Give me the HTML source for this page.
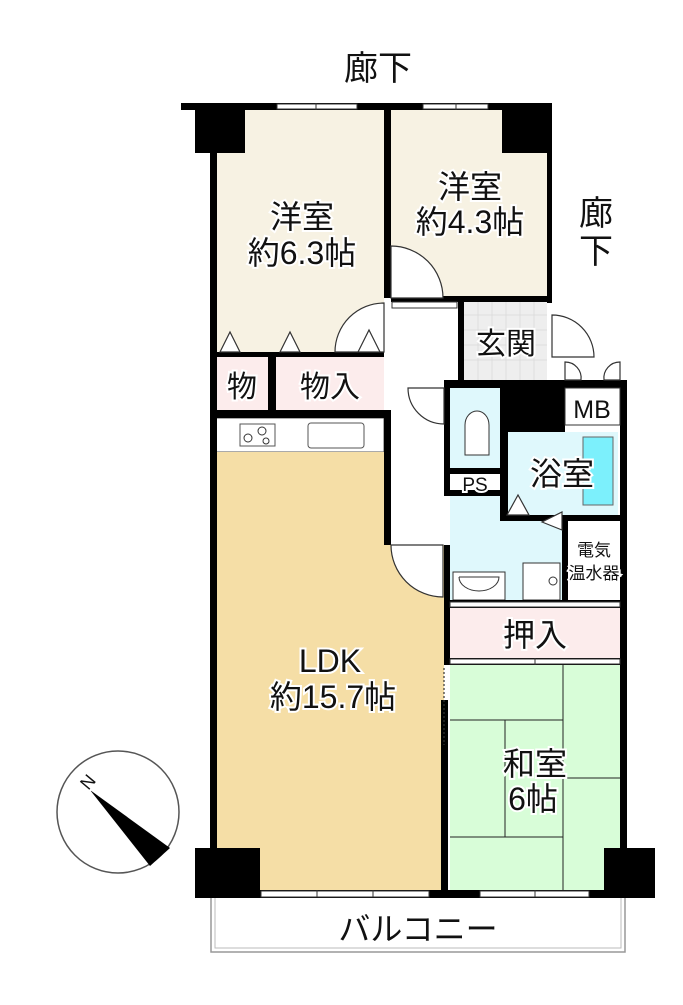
<!DOCTYPE html>
<html><head><meta charset="utf-8"><style>
body{margin:0;background:#fff}
svg text{font-family:"Liberation Sans","Noto Sans CJK JP",sans-serif;fill:#111;stroke:#fff;stroke-width:4;paint-order:stroke}
</style></head><body>
<svg width="683" height="1000" viewBox="0 0 683 1000" xmlns="http://www.w3.org/2000/svg">
<rect x="211" y="895" width="414" height="57" fill="#fff" stroke="#999" stroke-width="1.5"/>
<rect x="215" y="895" width="406" height="53" fill="none" stroke="#bbb" stroke-width="1"/>
<rect x="216" y="110" width="168" height="245" fill="#f7f2e3"/>
<rect x="391" y="110" width="158" height="188" fill="#f7f2e3"/>
<rect x="216" y="357" width="52" height="54" fill="#fcecec"/>
<rect x="276" y="357" width="108" height="54" fill="#fcecec"/>
<rect x="216" y="418" width="168" height="34" fill="#fff" stroke="#555"/>
<path d="M216 452H388V545H444V892H216Z" fill="#f5dea6"/>
<rect x="464" y="301" width="83" height="80" fill="#eee"/>
<g stroke="#ddd" stroke-width="1">
<path d="M464 315H547M464 330H547M464 345H547M464 360H547M478 301V381M492 301V381M506 301V381M520 301V381M534 301V381"/>
</g>
<rect x="450" y="388" width="50" height="80" fill="#dff8fc"/>
<rect x="508" y="432" width="110" height="85" fill="#dff8fc"/>
<rect x="583" y="437" width="30" height="68" fill="#7cf0fc" stroke="#666"/>
<rect x="450" y="495" width="112" height="105" fill="#dff8fc"/>
<rect x="568" y="520" width="52" height="80" fill="#fff"/>
<rect x="448" y="608" width="172" height="50" fill="#fcecec"/>
<rect x="450" y="665" width="170" height="227" fill="#d8fdd8"/>
<g stroke="#222" stroke-width="1" fill="none">
<path d="M450 720H563M563 665V892M505 720V837M450 837H563M563 778H620"/>
</g>
<rect x="240" y="424" width="35" height="22" fill="#fff" stroke="#555"/>
<circle cx="248" cy="438" r="4" fill="none" stroke="#333"/><circle cx="262" cy="431" r="4" fill="none" stroke="#333"/><circle cx="266" cy="441" r="3" fill="none" stroke="#333"/>
<rect x="308" y="423" width="56" height="25" rx="3" fill="#fff" stroke="#555"/>
<path d="M465 455V425a12 14 0 0 1 24 0V455Z" fill="#fff" stroke="#333"/>
<rect x="453" y="572" width="52" height="28" fill="#fff" stroke="#333"/>
<path d="M459 577h40a20 14 0 0 1 -40 0" fill="#fff" stroke="#333"/>
<rect x="523" y="563" width="37" height="37" fill="#fff" stroke="#333"/><circle cx="553" cy="581" r="4" fill="none" stroke="#333"/>
<g fill="#000">
<rect x="181" y="103" width="371" height="7"/>
<rect x="195" y="103" width="50" height="50"/>
<rect x="502" y="103" width="50" height="50"/>
<rect x="210" y="103" width="7" height="795"/>
<rect x="384" y="103" width="7" height="195"/>
<rect x="547" y="103" width="5" height="200"/>
<rect x="391" y="296" width="160" height="6"/>
<rect x="458" y="300" width="6" height="82"/>
<rect x="210" y="352" width="174" height="5"/>
<rect x="268" y="352" width="8" height="60"/>
<rect x="210" y="410" width="181" height="8"/>
<rect x="384" y="410" width="7" height="135"/>
<rect x="444" y="380" width="183" height="8"/>
<rect x="500" y="380" width="65" height="52"/>
<rect x="444" y="380" width="6" height="115"/>
<rect x="444" y="468" width="64" height="6"/>
<rect x="444" y="490" width="64" height="6"/>
<rect x="500" y="430" width="8" height="88"/>
<rect x="500" y="515" width="125" height="6"/>
<rect x="562" y="515" width="6" height="90"/>
<rect x="620" y="380" width="7" height="518"/>
<rect x="444" y="545" width="6" height="120"/>
<rect x="444" y="600" width="183" height="8"/>
<rect x="444" y="658" width="183" height="7"/>
<rect x="441" y="700" width="7" height="198"/>
<rect x="210" y="890" width="445" height="8"/>
<rect x="195" y="848" width="65" height="50"/>
<rect x="604" y="848" width="51" height="50"/>
</g>
<g fill="#fff" stroke="#333" stroke-width="1">
<rect x="277" y="104" width="80" height="5"/><rect x="423" y="104" width="65" height="5"/>
<rect x="261" y="891" width="168" height="6"/><rect x="480" y="891" width="109" height="6"/>
<rect x="392" y="302" width="65" height="6"/><rect x="450" y="602" width="170" height="5"/><rect x="450" y="659" width="170" height="5"/>
</g>
<g stroke="#333" stroke-width="1">
<path d="M316 103V110M456 103V110M317 890V897M373 890V897M535 890V897M535 658V665"/>
</g>
<g fill="#fff" stroke="#333" stroke-width="1.2">
<path d="M391 246a52 52 0 0 1 52 52H391Z"/>
<path d="M384 303a49 49 0 0 0 -49 49H384Z"/>
<path d="M552 315a42 42 0 0 1 42 42H552Z"/>
<path d="M391 545a52 52 0 0 0 52 52V545Z"/>
<path d="M565 380V362a16 16 0 0 1 16 18ZM620 380V362a16 16 0 0 0 -16 18Z"/>
<path d="M220 352l10 -20 10 20ZM280 352l10 -20 10 20ZM358 352l11 -22 11 22ZM507 515l11 -20 11 20ZM562 530l-20 -8 20 -10Z"/>
<path d="M444 668V745" stroke-dasharray="2 2"/>
<path d="M408 388a36 36 0 0 0 36 36V388Z"/>
</g>
<rect x="565" y="388" width="55" height="37" fill="#fff" stroke="#333"/>
<circle cx="118" cy="812" r="61" fill="#fff" stroke="#555" stroke-width="1.5"/>
<path d="M90 790L170 848L150 866Z" fill="#000"/>
<text x="88" y="788" font-size="18" transform="rotate(-50 88 782)" text-anchor="middle">N</text>
<g text-anchor="middle">
<text x="378" y="80" font-size="34">廊下</text>
<text x="596" y="225" font-size="34">廊</text>
<text x="596" y="263" font-size="34">下</text>
<text x="302" y="228" font-size="32">洋室</text>
<text x="302" y="264" font-size="32">約6.3帖</text>
<text x="470" y="198" font-size="32">洋室</text>
<text x="470" y="233" font-size="32">約4.3帖</text>
<text x="506" y="354" font-size="30">玄関</text>
<text x="242" y="397" font-size="30">物</text>
<text x="330" y="397" font-size="30">物入</text>
<text x="592" y="418" font-size="25">MB</text>
<text x="475" y="491" font-size="19">PS</text>
<text x="562" y="485" font-size="32">浴室</text>
<text x="594" y="556" font-size="17">電気</text>
<text x="594" y="579" font-size="17">温水器</text>
<text x="535" y="646" font-size="32">押入</text>
<text x="330" y="672" font-size="32">LDK</text>
<text x="333" y="708" font-size="32">約15.7帖</text>
<text x="535" y="775" font-size="32">和室</text>
<text x="533" y="810" font-size="32">6帖</text>
<text x="418" y="940" font-size="32">バルコニー</text>
</g>
</svg>
</body></html>
